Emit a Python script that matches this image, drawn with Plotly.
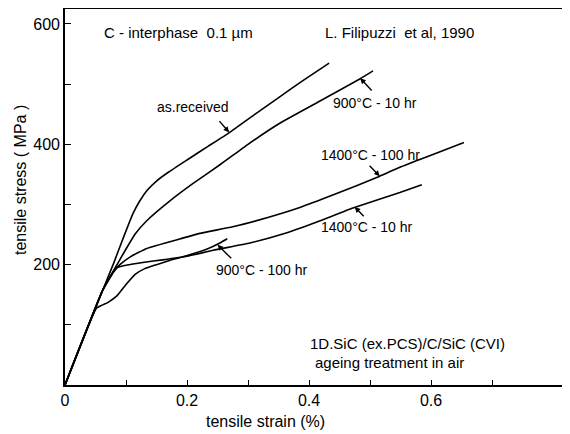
import plotly.graph_objects as go

# ---- data ----
as_received_strain = [0, 0.062, 0.08, 0.095, 0.111, 0.122, 0.135, 0.15, 0.17, 0.2, 0.235, 0.27, 0.31, 0.352, 0.39, 0.433]
as_received_stress = [0, 158, 203, 243, 284, 305, 324, 339, 354, 374, 397, 420, 449, 479, 506, 535]

c900_10_strain = [0, 0.062, 0.087, 0.1, 0.115, 0.134, 0.172, 0.21, 0.254, 0.3, 0.352, 0.418, 0.484, 0.505]
c900_10_stress = [0, 158, 203, 226, 251, 273, 306, 335, 366, 400, 435, 472, 509, 522]

c1400_100_strain = [0, 0.062, 0.08, 0.09, 0.107, 0.134, 0.189, 0.221, 0.275, 0.331, 0.385, 0.44, 0.516, 0.549, 0.6, 0.654]
c1400_100_stress = [0, 158, 188, 200, 213, 227, 243, 252, 263, 278, 295, 316, 347, 362, 382, 403]

c1400_10_strain = [0, 0.062, 0.077, 0.085, 0.1, 0.13, 0.16, 0.2, 0.243, 0.303, 0.357, 0.413, 0.472, 0.549, 0.585]
c1400_10_stress = [0, 158, 185, 195, 199, 204, 208, 214, 224, 236, 251, 271, 294, 320, 333]

c900_100_strain = [0, 0.052, 0.07, 0.085, 0.1, 0.115, 0.13, 0.15, 0.175, 0.2, 0.233, 0.254, 0.266]
c900_100_stress = [0, 128, 137, 148, 167, 184, 193, 200, 208, 215, 226, 236, 243]

x_tickvals = [0, 0.1, 0.2, 0.3, 0.4, 0.5, 0.6, 0.7]
x_ticktext = ["0", "", "0.2", "", "0.4", "", "0.6", ""]
y_tickvals = [0, 100, 200, 300, 400, 500, 600]
y_ticktext = ["", "", "200", "", "400", "", "600"]

FONT = "Liberation Sans"

# page body has an 8px margin; plot area should sit at page (65, 9) .. (570, 385)
OFF = 8
L, T, W, H = 65, 9, 505, 376
FIG_W, FIG_H = 570 - OFF, 434 - OFF

fig = go.Figure()
for xs, ys in [
    (as_received_strain, as_received_stress),
    (c900_10_strain, c900_10_stress),
    (c1400_100_strain, c1400_100_stress),
    (c1400_10_strain, c1400_10_stress),
    (c900_100_strain, c900_100_stress),
]:
    fig.add_trace(go.Scatter(x=xs, y=ys, mode="lines",
                             line=dict(color="black", width=1.6, shape="spline", smoothing=0.4),
                             showlegend=False, hoverinfo="skip"))

ann = []
labels = [
    ("as.received", 0.21, 462),
    ("900°C - 10 hr", 0.508, 469),
    ("1400°C - 100 hr", 0.50, 382),
    ("1400°C - 10 hr", 0.495, 262),
    ("900°C - 100 hr", 0.323, 191),
]
for t, x, y in labels:
    ann.append(dict(x=x, y=y, xref="x", yref="y", text=t, showarrow=False,
                    font=dict(family=FONT, size=14, color="black")))
arrows = [
    (0.269, 420, 0.251, 441),
    (0.484, 510, 0.505, 487),
    (0.516, 347, 0.497, 367),
    (0.475, 296, 0.492, 278),
    (0.25, 233, 0.275, 208),
]
for x, y, ax, ay in arrows:
    ann.append(dict(x=x, y=y, ax=ax, ay=ay, xref="x", yref="y", axref="x", ayref="y",
                    text="", showarrow=True, arrowhead=2, arrowsize=0.8, arrowwidth=1.4,
                    arrowcolor="black"))

texts = [
    ("C - interphase  0.1 µm", 102, 33),
    ("L. Filipuzzi  et al, 1990", 323, 33),
    ("1D.SiC (ex.PCS)/C/SiC (CVI)", 308, 343),
    ("ageing treatment in air", 313, 362),
]
for t, px, py in texts:
    ann.append(dict(x=(px - L) / W, y=(T + H - py) / H, xref="paper", yref="paper",
                    text=t, xanchor="left", yanchor="middle", showarrow=False,
                    font=dict(family=FONT, size=15, color="black")))
ann.append(dict(x=(265 - L) / W, y=(T + H - 421) / H, xref="paper", yref="paper",
                text="tensile strain (%)", showarrow=False, xanchor="center", yanchor="middle",
                font=dict(family=FONT, size=16, color="black")))
ann.append(dict(x=(20 - L) / W, y=(T + H - 180) / H, xref="paper", yref="paper",
                text="tensile stress ( MPa )", showarrow=False, textangle=-90,
                xanchor="center", yanchor="middle",
                font=dict(family=FONT, size=16, color="black")))

fig.update_layout(
    width=FIG_W, height=FIG_H,
    margin=dict(l=L - OFF, r=FIG_W - (L - OFF) - W, t=T - OFF, b=FIG_H - (T - OFF) - H, pad=0),
    paper_bgcolor="white", plot_bgcolor="white",
    annotations=ann,
    xaxis=dict(range=[0, W / 610], tickvals=x_tickvals, ticktext=x_ticktext,
               ticks="inside", ticklen=5, tickwidth=1.2, tickcolor="black",
               showline=True, linecolor="black", linewidth=1.6, mirror=True,
               showgrid=False, zeroline=False,
               tickfont=dict(family=FONT, size=16, color="black")),
    yaxis=dict(range=[0, H / 0.6017], tickvals=y_tickvals, ticktext=y_ticktext,
               ticks="inside", ticklen=6, tickwidth=1.2, tickcolor="black",
               showline=True, linecolor="black", linewidth=1.6,
               showgrid=False, zeroline=False,
               tickfont=dict(family=FONT, size=16, color="black")),
)

fig.write_html("out.html")
